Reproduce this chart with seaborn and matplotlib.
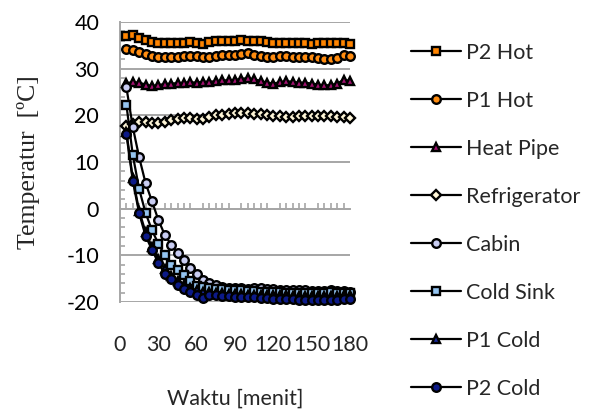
import numpy as np
import pandas as pd
import matplotlib
matplotlib.use("Agg")
import matplotlib.pyplot as plt
from matplotlib.ticker import MultipleLocator
import seaborn as sns

# Sampling times (minutes)
waktu = list(range(5, 181, 5))

p2_hot = [37.0, 37.2, 36.6, 36.1, 35.7, 35.5, 35.5, 35.6, 35.6, 35.6, 35.8, 35.5,
          35.3, 35.7, 35.9, 36.0, 36.0, 36.0, 36.1, 36.0, 36.0, 36.0, 35.8, 35.5,
          35.4, 35.4, 35.5, 35.4, 35.4, 35.3, 35.4, 35.5, 35.5, 35.5, 35.5, 35.2]
p1_hot = [34.2, 34.0, 33.6, 33.2, 32.8, 32.6, 32.6, 32.6, 32.6, 32.7, 32.8, 32.7,
          32.6, 32.6, 32.8, 33.0, 33.0, 32.9, 33.2, 33.3, 33.0, 32.8, 32.6, 32.4,
          32.7, 32.8, 32.6, 32.6, 32.5, 32.4, 32.3, 32.0, 32.0, 32.3, 33.0, 32.8]
heat_pipe = [26.9, 27.1, 27.0, 26.6, 26.3, 26.5, 26.7, 26.8, 26.9, 27.0, 27.1, 27.0,
             27.2, 27.2, 27.3, 27.5, 27.5, 27.6, 27.8, 28.0, 27.7, 27.4, 27.0, 26.8,
             27.1, 27.3, 27.2, 27.0, 27.0, 26.8, 26.6, 26.4, 26.5, 26.8, 27.6, 27.4]
refrigerator = [17.8, 18.2, 18.5, 18.5, 18.4, 18.3, 18.6, 19.0, 19.3, 19.5, 19.5, 19.3,
                19.2, 19.7, 20.0, 20.1, 20.3, 20.4, 20.4, 20.4, 20.3, 20.2, 20.0, 19.8,
                19.8, 19.7, 19.7, 19.8, 19.8, 19.8, 19.8, 19.8, 19.8, 19.7, 19.6, 19.4]
cabin = [26.0, 17.5, 11.0, 5.5, 1.6, -2.4, -5.6, -7.7, -9.5, -11.1, -12.7, -14.1,
         -15.2, -16.0, -16.4, -16.7, -16.9, -17.0, -17.1, -17.2, -17.1, -17.0, -17.2, -17.3,
         -17.4, -17.4, -17.5, -17.4, -17.5, -17.6, -17.7, -17.6, -17.5, -17.6, -17.7, -17.8]
cold_sink = [22.3, 11.5, 4.2, -0.9, -4.6, -7.5, -10.0, -12.0, -13.2, -14.3, -15.6, -16.5,
             -16.8, -17.0, -17.2, -17.3, -17.4, -17.4, -17.5, -17.6, -17.7, -17.8, -17.8, -17.9,
             -17.9, -18.0, -18.0, -18.0, -18.1, -18.1, -18.0, -18.0, -17.9, -18.0, -18.0, -18.0]
p1_cold = [16.5, 6.5, -0.5, -5.0, -8.2, -10.7, -13.0, -14.5, -15.5, -16.3, -17.0, -17.5,
           -17.8, -17.9, -18.0, -18.1, -18.2, -18.3, -18.3, -18.4, -18.4, -18.5, -18.5, -18.6,
           -18.6, -18.6, -18.7, -18.7, -18.8, -18.8, -18.8, -18.8, -18.7, -18.7, -18.6, -18.6]
p2_cold = [16.0, 6.0, -1.0, -5.8, -8.8, -11.6, -14.0, -15.0, -16.3, -17.2, -17.8, -18.4,
           -19.1, -18.6, -18.6, -18.7, -18.8, -18.9, -19.0, -19.0, -19.0, -19.1, -19.2, -19.4,
           -19.4, -19.4, -19.4, -19.5, -19.5, -19.5, -19.5, -19.6, -19.5, -19.5, -19.4, -19.4]

series_names = ["P2 Hot", "P1 Hot", "Heat Pipe", "Refrigerator",
                "Cabin", "Cold Sink", "P1 Cold", "P2 Cold"]
series_values = [p2_hot, p1_hot, heat_pipe, refrigerator,
                 cabin, cold_sink, p1_cold, p2_cold]

x_ticks = [0, 30, 60, 90, 120, 150, 180]
y_ticks = [-20, -10, 0, 10, 20, 30, 40]

# marker shape, face colour, size
styles = {
    "P2 Hot": ("s", "#ff8400", 5.6),
    "P1 Hot": ("o", "#ff8c10", 6.2),
    "Heat Pipe": ("^", "#a0106e", 6.2),
    "Refrigerator": ("D", "#fff6d8", 5.0),
    "Cabin": ("o", "#c9cdf2", 6.2),
    "Cold Sink": ("s", "#94c4f0", 5.6),
    "P1 Cold": ("^", "#1a2a9e", 6.2),
    "P2 Cold": ("o", "#0c1a88", 6.2),
}

long = pd.DataFrame({
    "Waktu": np.tile(waktu, len(series_names)),
    "Suhu": np.concatenate(series_values),
    "Seri": np.repeat(series_names, len(waktu)),
})

sns.set_style("white")
plt.rcParams["font.family"] = ["Lato", "DejaVu Sans"]
plt.rcParams["axes.unicode_minus"] = False

fig = plt.figure(figsize=(5.99, 4.11), dpi=100)
ax = fig.add_axes([120 / 599, 1 - 302 / 411, 230 / 599, 280 / 411])

grey = "#a6a6a6"

for name in series_names:
    m, fc, ms = styles[name]
    sns.lineplot(data=long[long["Seri"] == name], x="Waktu", y="Suhu", ax=ax,
                 color="black", lw=1.6, marker=m, markersize=ms,
                 markerfacecolor=fc, markeredgecolor="black", markeredgewidth=1.7,
                 label=name, clip_on=False, zorder=3)

ax.set_xlim(0, 180)
ax.set_ylim(-20, 40)
ax.set_yticks(y_ticks)
ax.yaxis.set_minor_locator(MultipleLocator(2))
ax.set_xticks(x_ticks)
ax.xaxis.set_minor_locator(MultipleLocator(5))

ax.grid(axis="y", color=grey, lw=1.4, zorder=0)
for s in ["top", "right"]:
    ax.spines[s].set_visible(False)
ax.spines["left"].set_color(grey)
ax.spines["left"].set_linewidth(1.4)
ax.spines["bottom"].set_position(("data", 0))
ax.spines["bottom"].set_color(grey)
ax.spines["bottom"].set_linewidth(1.4)

ax.tick_params(axis="y", which="major", direction="out", length=7, width=1.4,
               color=grey, labelsize=15.5, pad=8, labelcolor="black")
ax.tick_params(axis="y", which="minor", direction="in", length=3.5, width=1.2,
               color=grey, left=True)
ax.tick_params(axis="x", which="major", direction="inout", length=10, width=1.4,
               color=grey, labelbottom=False)
ax.tick_params(axis="x", which="minor", direction="in", length=4.5, width=1.2,
               color=grey, bottom=True)

# Time labels sit below the plot area
sec = ax.secondary_xaxis("bottom")
sec.set_xticks(x_ticks)
sec.tick_params(length=0, pad=24, labelsize=15.5)
for s in sec.spines.values():
    s.set_visible(False)
sec.set_xlabel("Waktu [menit]", fontsize=15.5, labelpad=24)

ax.set_xlabel("")
ax.set_ylabel("Temperatur  [ºC]", family=["Liberation Serif", "DejaVu Serif"],
              fontsize=18.5, labelpad=19)

handles, labels = ax.get_legend_handles_labels()
ax.legend(handles, labels, loc="upper left", bbox_to_anchor=(411 / 599, 1 - 43 / 411),
          bbox_transform=fig.transFigure, frameon=False, fontsize=15.5,
          handlelength=2.3, handletextpad=0.25, labelspacing=1.3,
          borderpad=0, borderaxespad=0)

fig.savefig("out.png", dpi=100)
